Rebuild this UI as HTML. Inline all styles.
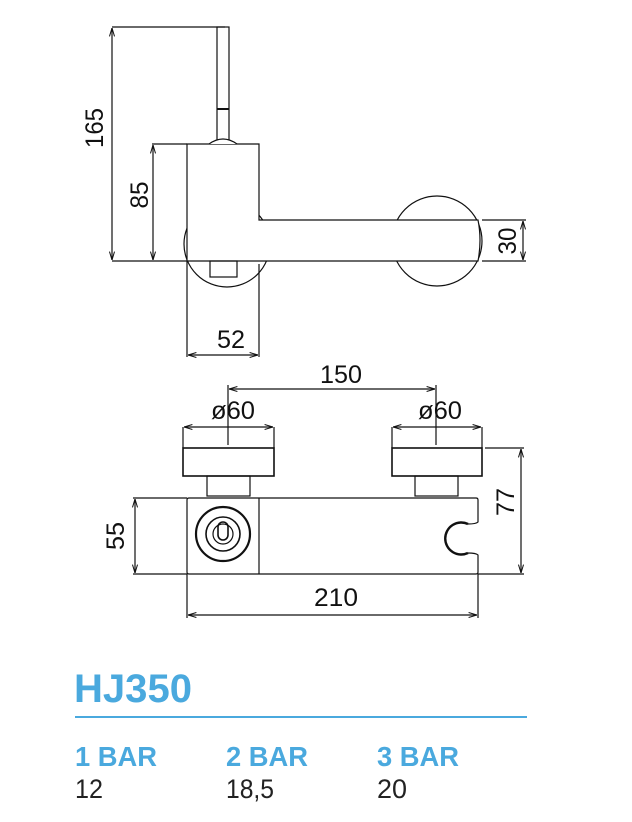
<!DOCTYPE html>
<html><head><style>
html,body{margin:0;padding:0;background:#fff;}
svg{display:block}
.d{font-family:"Liberation Sans",sans-serif;font-size:25px;fill:#111}
.b{font-family:"Liberation Sans",sans-serif;font-weight:bold;fill:#4aa9de}
.v{font-family:"Liberation Sans",sans-serif;fill:#222;font-size:27px}
</style></head><body>
<svg width="632" height="822" viewBox="0 0 632 822" xmlns="http://www.w3.org/2000/svg">
<defs>
<marker id="a" viewBox="0 0 10 10" refX="10" refY="5" markerWidth="7" markerHeight="7" orient="auto-start-reverse"><path d="M0,2 L10,5 L0,8" fill="none" stroke="#111" stroke-width="1.2"/></marker>
</defs>
<g fill="none" stroke="#111" stroke-width="1.2">
<circle cx="227" cy="244" r="43"/>
<circle cx="437" cy="241" r="45"/>
<path d="M187,144 H259 V220 H478 Q482,240 478,261 H187 Z" fill="#fff"/>
<rect x="217" y="27" width="12" height="113" fill="#fff"/>
<line x1="217" y1="109" x2="229" y2="109" stroke-width="2"/>
<path d="M209,144 Q223,134 237,144" fill="#fff"/>
<rect x="210" y="261" width="27" height="16"/>
<line x1="112" y1="27" x2="225" y2="27"/>
<line x1="112" y1="261" x2="187" y2="261"/>
<line x1="112" y1="28" x2="112" y2="260" marker-start="url(#a)" marker-end="url(#a)"/>
<line x1="152" y1="144" x2="187" y2="144"/>
<line x1="153" y1="145" x2="153" y2="260" marker-start="url(#a)" marker-end="url(#a)"/>
<line x1="187" y1="261" x2="187" y2="357"/>
<line x1="259" y1="264" x2="259" y2="357"/>
<line x1="188" y1="355" x2="258" y2="355" marker-start="url(#a)" marker-end="url(#a)"/>
<line x1="482" y1="220" x2="526" y2="220"/>
<line x1="482" y1="261" x2="526" y2="261"/>
<line x1="523" y1="221" x2="523" y2="260" marker-start="url(#a)" marker-end="url(#a)"/>

<line x1="229" y1="389" x2="435" y2="389" marker-start="url(#a)" marker-end="url(#a)"/>
<line x1="228" y1="385" x2="228" y2="445"/>
<line x1="436" y1="385" x2="436" y2="445"/>
<line x1="183" y1="427" x2="183" y2="448"/>
<line x1="274" y1="427" x2="274" y2="448"/>
<line x1="184" y1="427" x2="273" y2="427" marker-start="url(#a)" marker-end="url(#a)"/>
<line x1="392" y1="427" x2="392" y2="448"/>
<line x1="482" y1="427" x2="482" y2="448"/>
<line x1="393" y1="427" x2="481" y2="427" marker-start="url(#a)" marker-end="url(#a)"/>
<rect x="183" y="448" width="91" height="28" stroke-width="1.6"/>
<rect x="392" y="448" width="90" height="28" stroke-width="1.6"/>
<rect x="207" y="476" width="43" height="20"/>
<rect x="415" y="476" width="43" height="20"/>
<path d="M468,553 Q476,553 478,555 V572 Q478,574 476,574 H189 Q187,574 187,572 V500 Q187,498 189,498 H476 Q478,498 478,500 V522 Q476,524 468,524"/>
<path d="M468,524 A16,16 0 1 0 468,553" stroke-width="2.4"/>
<line x1="259" y1="498" x2="259" y2="574"/>
<circle cx="223" cy="534" r="27" stroke-width="2.2"/>
<circle cx="223" cy="534" r="17" stroke-width="1.6"/>
<circle cx="223" cy="534" r="10"/>
<rect x="218" y="522" width="10" height="18" rx="5" stroke-width="1.6"/>
<line x1="133" y1="498" x2="187" y2="498"/>
<line x1="133" y1="574" x2="187" y2="574"/>
<line x1="135" y1="499" x2="135" y2="573" marker-start="url(#a)" marker-end="url(#a)"/>
<line x1="485" y1="448" x2="524" y2="448"/>
<line x1="478" y1="574" x2="524" y2="574"/>
<line x1="521" y1="449" x2="521" y2="573" marker-start="url(#a)" marker-end="url(#a)"/>
<line x1="187" y1="574" x2="187" y2="618"/>
<line x1="478" y1="574" x2="478" y2="618"/>
<line x1="188" y1="615" x2="477" y2="615" marker-start="url(#a)" marker-end="url(#a)"/>
</g>
<g class="d">
<text transform="translate(103,128) rotate(-90)" text-anchor="middle" textLength="40" lengthAdjust="spacingAndGlyphs">165</text>
<text transform="translate(148,195) rotate(-90)" text-anchor="middle" textLength="27" lengthAdjust="spacingAndGlyphs">85</text>
<text x="231" y="348" text-anchor="middle" textLength="28" lengthAdjust="spacingAndGlyphs">52</text>
<text transform="translate(516,241) rotate(-90)" text-anchor="middle" textLength="27" lengthAdjust="spacingAndGlyphs">30</text>
<text x="341" y="383" text-anchor="middle" textLength="42" lengthAdjust="spacingAndGlyphs">150</text>
<text x="233" y="419" text-anchor="middle" textLength="44" lengthAdjust="spacingAndGlyphs">ø60</text>
<text x="440" y="419" text-anchor="middle" textLength="44" lengthAdjust="spacingAndGlyphs">ø60</text>
<text transform="translate(124,536) rotate(-90)" text-anchor="middle" textLength="28" lengthAdjust="spacingAndGlyphs">55</text>
<text transform="translate(514,502) rotate(-90)" text-anchor="middle" textLength="28" lengthAdjust="spacingAndGlyphs">77</text>
<text x="336" y="606" text-anchor="middle" textLength="44" lengthAdjust="spacingAndGlyphs">210</text>
</g>
<text class="b" x="74" y="702" font-size="40" textLength="118" lengthAdjust="spacingAndGlyphs">HJ350</text>
<rect x="75" y="716" width="452" height="2" fill="#4aa9de"/>
<text class="b" x="75" y="766" font-size="28" textLength="82" lengthAdjust="spacingAndGlyphs">1 BAR</text>
<text class="b" x="226" y="766" font-size="28" textLength="82" lengthAdjust="spacingAndGlyphs">2 BAR</text>
<text class="b" x="377" y="766" font-size="28" textLength="82" lengthAdjust="spacingAndGlyphs">3 BAR</text>
<text class="v" x="75" y="798" textLength="28" lengthAdjust="spacingAndGlyphs">12</text>
<text class="v" x="226" y="798" textLength="48" lengthAdjust="spacingAndGlyphs">18,5</text>
<text class="v" x="377" y="798" textLength="30" lengthAdjust="spacingAndGlyphs">20</text>
</svg>
</body></html>
